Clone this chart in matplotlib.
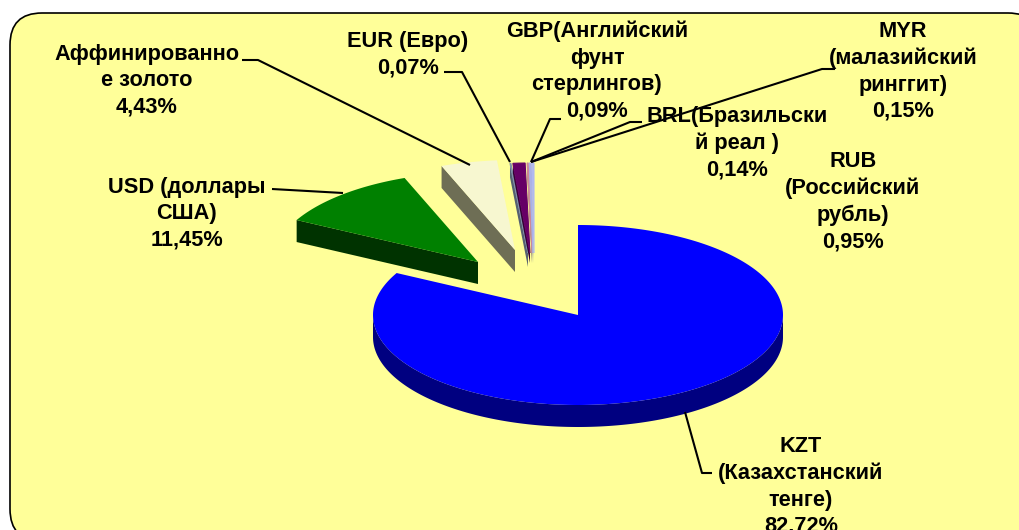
import numpy as np
import matplotlib
matplotlib.use("Agg")
import matplotlib.pyplot as plt
from matplotlib.patches import Polygon, FancyBboxPatch

names = ["KZT\n(Казахстанский\nтенге)\n82,72%", "USD (доллары\nСША)\n11,45%", "Аффинированно\nе золото\n4,43%",
         "EUR (Евро)\n0,07%", "RUB\n(Российский\nрубль)\n0,95%", "GBP(Английский\nфунт\nстерлингов)\n0,09%",
         "MYR\n(малазийский\nринггит)\n0,15%", "BRL(Бразильски\nй реал )\n0,14%"]
values = [82.72, 11.45, 4.43, 0.07, 0.95, 0.09, 0.15, 0.14]
top_colors = ["#0000ff", "#008000", "#f7f7d0", "#7f8fa8", "#660066", "#cc8899", "#aab0e8", "#b0b8f0"]
side_colors = ["#000080", "#003300", "#6e6e55", "#556070", "#330033", "#665060", "#7078a8", "#7078a8"]
apex_x = [578, 478, 515, 528, 530, 532, 533, 534]
apex_y = [315, 262, 250, 253, 253, 253, 253, 253]
depths = [22, 22, 22, 14, 10, 10, 10, 10]
label_x = [801, 187, 147, 408, 853, 597, 903, 737]
label_y = [436, 177, 44, 31, 151, 21, 21, 106]
leaders = [([685, 702, 712], [412, 473, 473]), ([272, 343], [189, 193]), ([242, 258, 470], [60, 60, 165]),
           ([444, 462, 510], [72, 72, 162]), ([561, 550, 531], [119, 119, 162]),
           ([642, 630, 531], [122, 122, 162]), ([835, 822, 531], [69, 69, 162])]
RX, RY = 205, 90

fig = plt.figure(figsize=(10.19, 5.30), dpi=100)
ax = fig.add_axes([0, 0, 1, 1])
ax.set_xlim(0, 1019)
ax.set_ylim(530, 0)
ax.axis("off")
ax.add_patch(FancyBboxPatch((10, 13), 1030, 528, boxstyle="round,pad=0,rounding_size=32",
                            fc="#ffff99", ec="black", lw=1.2))

start = 0.0
for i, v in enumerate(values):
    end = start + v / 100 * 2 * np.pi
    cx, cy = apex_x[i], apex_y[i]
    d = depths[i]
    t = np.linspace(start, end, max(2, int(v * 4)))
    ex, ey = cx + RX * np.sin(t), cy - RY * np.cos(t)
    front = np.cos(t) <= 0
    if front.any():
        fx, fy = ex[front], ey[front]
        poly = np.r_[np.c_[fx, fy], np.c_[fx, fy + d][::-1]]
        ax.add_patch(Polygon(poly, fc=side_colors[i], ec="none", zorder=2 + i))
    if i > 0:
        sx, sy = ex[0], ey[0]
        poly = [(sx, sy), (cx, cy), (cx, cy + d), (sx, sy + d)]
        ax.add_patch(Polygon(poly, fc=side_colors[i], ec="none", zorder=2 + i))
    poly = np.r_[[[cx, cy]], np.c_[ex, ey]]
    ax.add_patch(Polygon(poly, fc=top_colors[i], ec=top_colors[i] if v < 1 else "none",
                         lw=0.8 if v < 1 else 0, zorder=3 + i))
    start = end

for k, (lx, ly) in enumerate(leaders):
    ax.plot(lx, ly, color="black", lw=1.5, zorder=1 if k == 1 else 20, solid_capstyle="butt")

for s, x, y in zip(names, label_x, label_y):
    ax.text(x, y, s, ha="center", va="top", family="Liberation Sans", fontweight="bold",
            fontsize=15.7, linespacing=1.34, color="black", zorder=21)

fig.savefig("out.png", dpi=100)
